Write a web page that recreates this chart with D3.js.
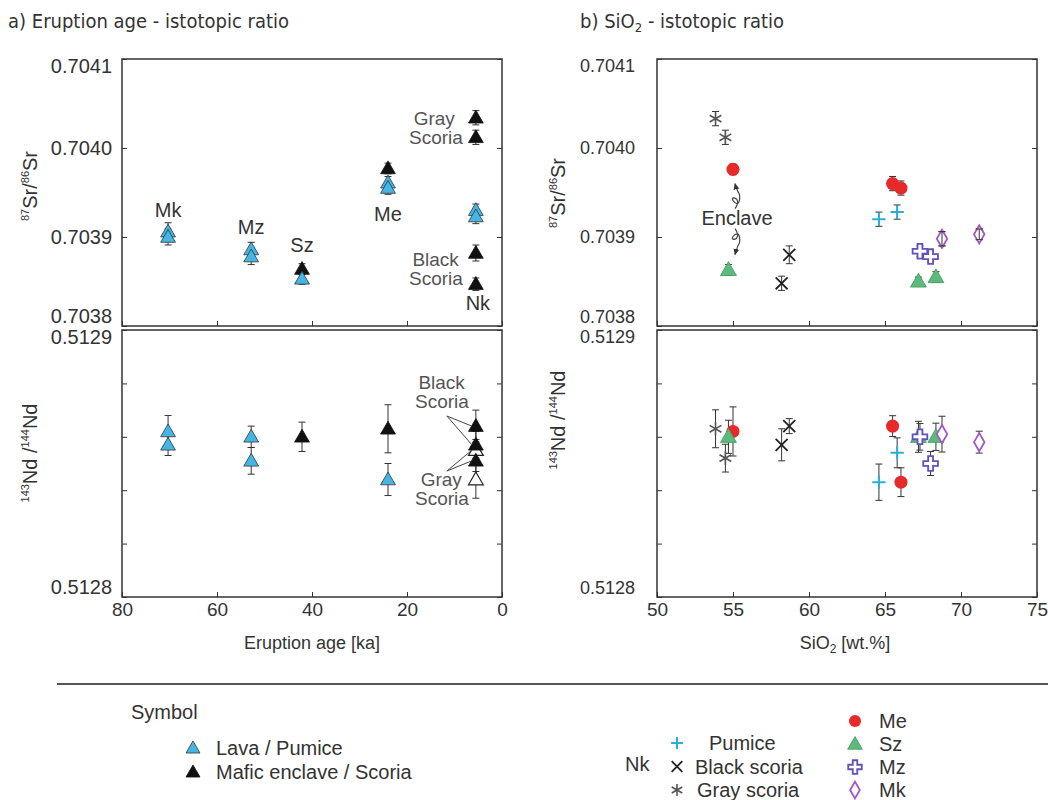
<!DOCTYPE html>
<html>
<head>
<meta charset="utf-8">
<script src="https://cdn.jsdelivr.net/npm/d3@7.9.0/dist/d3.min.js"></script>
<style>
  body { margin: 0; background: #fff; }
  svg text { font-family: "Liberation Sans", Arial, sans-serif; fill: #333; }
  .title { font-family: "Liberation Sans Narrow", "DejaVu Sans Condensed", sans-serif; font-size: 20px; }
</style>
</head>
<body>
<svg id="chart" width="1048" height="800"></svg>
<script>
// ---- a) eruption age vs isotopic ratio : [age (ka), value, error] ----
const lavaSr = [[70.3, 0.703906, 0.000010], [70.3, 0.703900, 0.000009], [52.8, 0.703886, 0.000008], [52.8, 0.703878, 0.000009],
  [42.1, 0.703853, 0.000006], [24.0, 0.703961, 0.000007], [24.0, 0.703955, 0.000007], [5.5, 0.703930, 0.000007], [5.5, 0.703923, 0.000008]];
const maficSr = [[42.1, 0.703864, 0.000006], [24.0, 0.703977, 0.000006], [5.5, 0.704034, 0.000008], [5.5, 0.704012, 0.000008],
  [5.5, 0.703882, 0.000009], [5.5, 0.703847, 0.000007]];
const lavaNd = [[70.3, 0.512862, 0.000006], [70.3, 0.512857, 0.000004], [52.8, 0.512860, 0.000004], [52.8, 0.512851, 0.000005], [24.0, 0.512844, 0.000006]];
const maficNd = [[42.1, 0.512860, 0.0000055], [24.0, 0.512863, 0.000009], [5.5, 0.512864, 0.000006], [5.5, 0.512857, 0.000005], [5.5, 0.512851, 0.000004]];
const openNd = [[5.5, 0.512855, 0.000004], [5.5, 0.512844, 0.000007]];
const unitNames = ["Mk", "Mz", "Sz", "Me"];
const unitAges = [70.3, 52.8, 42.1, 24.0];

// ---- b) SiO2 vs isotopic ratio : [SiO2, Sr, Sr err, Nd, Nd err] ----
const pumiceRows = [[64.6, 0.703920, 0.000008, 0.512843, 0.0000068], [65.8, 0.703928, 0.000008, 0.512854, 0.0000056]];
const blackScoriaRows = [[58.2, 0.703848, 0.000008, 0.512857, 0.0000060], [58.7, 0.703880, 0.000010, 0.512864, 0.0000028]];
const grayScoriaRows = [[53.85, 0.704033, 0.000008, 0.512863, 0.0000071], [54.5, 0.704012, 0.000008, 0.512852, 0.0000052]];
const meRows = [[55.0, 0.703976, 0.000006, 0.512862, 0.0000092], [65.5, 0.703960, 0.000008, 0.512864, 0.0000039], [66.05, 0.703955, 0.000008, 0.512843, 0.0000054]];
const szRows = [[54.7, 0.703863, 0.000006, 0.512860, 0.0000062], [67.2, 0.703850, 0.000005, 0.512860, 0.0000058], [68.35, 0.703855, 0.000006, 0.512860, 0.0000051]];
const mzRows = [[67.3, 0.703884, 0.000006, 0.512860, 0.0000050], [68.0, 0.703878, 0.000006, 0.512850, 0.0000045]];
const mkRows = [[68.75, 0.703898, 0.000008, 0.512861, 0.0000067], [71.2, 0.703903, 0.000006, 0.512858, 0.0000041]];

// ticks
const ageTicks = [80, 60, 40, 20, 0];
const siTicks = [50, 55, 60, 65, 70, 75];
const srTicks = [0.7038, 0.7039, 0.7040, 0.7041];
const ndTicks = [0.5128, 0.51282, 0.51284, 0.51286, 0.51288, 0.5129];
const ndLabels = [0.5128, 0.5129];

const svg = d3.select("#chart");
const defs = svg.append("defs");
defs.append("marker").attr("id", "arr").attr("viewBox", "0 0 10 10").attr("refX", 8).attr("refY", 5)
  .attr("markerWidth", 6).attr("markerHeight", 6).attr("orient", "auto")
  .append("path").attr("d", "M0,1L9,5L0,9Z").attr("fill", "#333");

const xAge = d3.scaleLinear().domain([80, 0]).range([122, 502]);
const xSi = d3.scaleLinear().domain([50, 75]).range([657, 1037]);
const ySr = d3.scaleLinear().domain([0.7038, 0.7041]).range([326, 59]);
const yNd = d3.scaleLinear().domain([0.5128, 0.5129]).range([597, 330]);

// frame + inward ticks for one panel
function drawFrame(x, y, xVals, yVals, yLabels, showX, pad, fs) {
  const [xl, xr] = x.range(), [yb, yt] = y.range();
  const g = svg.append("g").attr("color", "#333");
  const fmt = v => yLabels.includes(v) ? d3.format(".4f")(v) : "";
  const left = g.append("g").attr("transform", `translate(${xl},0)`)
    .call(d3.axisLeft(y).tickValues(yVals).tickSizeInner(-5).tickSizeOuter(0).tickPadding(pad).tickFormat(fmt));
  left.attr("font-size", fs).attr("font-family", null);
  // nudge the end labels inside the panel height
  left.selectAll(".tick text").attr("dy", v => v === y.domain()[1] ? "0.68em" : v === y.domain()[0] ? "-0.2em" : "0.32em");
  g.append("g").attr("transform", `translate(${xr},0)`)
    .call(d3.axisRight(y).tickValues(yVals).tickSizeInner(-5).tickSizeOuter(0).tickFormat(""));
  const bottom = g.append("g").attr("transform", `translate(0,${yb})`)
    .call(d3.axisBottom(x).tickValues(xVals).tickSizeInner(-5).tickSizeOuter(0).tickPadding(6)
      .tickFormat(showX ? d3.format("d") : ""));
  bottom.attr("font-size", 19).attr("font-family", null);
  g.selectAll(".domain").remove();
  g.append("rect").attr("x", xl).attr("y", yt).attr("width", xr - xl).attr("height", yb - yt)
    .attr("fill", "none").attr("stroke", "#333").attr("stroke-width", 1.5);
}

drawFrame(xAge, ySr, ageTicks, srTicks, srTicks, false, 10, 20);
drawFrame(xAge, yNd, ageTicks, ndTicks, ndLabels, true, 10, 20);
drawFrame(xSi, ySr, siTicks, srTicks, srTicks, false, 22, 18);
drawFrame(xSi, yNd, siTicks, ndTicks, ndLabels, true, 22, 18);

function errorBars(pts, x, y, xi, vi, ei) {
  svg.append("g").selectAll("path").data(pts).join("path")
    .attr("d", d => {
      const cx = x(d[xi]), y1 = y(d[vi] - d[ei]), y2 = y(d[vi] + d[ei]);
      return `M${cx - 3.5},${y2}H${cx + 3.5}M${cx},${y2}V${y1}M${cx - 3.5},${y1}H${cx + 3.5}`;
    })
    .attr("fill", "none").attr("stroke", "#333").attr("stroke-width", 1);
}

function marks(pts, x, y, xi, vi, st) {
  svg.append("g").selectAll("path").data(pts).join("path")
    .attr("transform", d => `translate(${x(d[xi])},${y(d[vi]) + (st.dy || 0)})`)
    .attr("d", d3.symbol(st.type, st.size))
    .attr("fill", st.fill).attr("stroke", st.stroke).attr("stroke-width", st.sw);
}

// two-line gray note, one text element
function note(xEnd, yTop, lines, gap) {
  const t = svg.append("text").attr("y", yTop).attr("dy", "0.35em").attr("text-anchor", "end")
    .attr("font-size", 19).style("fill", "#555");
  lines.forEach(([s, dx], i) => t.append("tspan").attr("x", xEnd + dx).attr("dy", i ? gap : null).text(s));
}

const lavaStyle = { type: d3.symbolTriangle, size: 95, fill: "#43b6e6", stroke: "#333", sw: 0.8, dy: 1 };
const maficStyle = { type: d3.symbolTriangle, size: 95, fill: "#111", stroke: "#111", sw: 0.8, dy: 1 };
const openStyle = { type: d3.symbolTriangle, size: 95, fill: "#fff", stroke: "#222", sw: 1.2, dy: 1 };

// ---- panel a, Sr ----
errorBars(lavaSr, xAge, ySr, 0, 1, 2);
errorBars(maficSr, xAge, ySr, 0, 1, 2);
marks(maficSr, xAge, ySr, 0, 1, maficStyle);
marks(lavaSr, xAge, ySr, 0, 1, lavaStyle);

// unit labels
const unitDy = [-22, -22, -24, 26];
svg.append("g").selectAll("text").data(unitNames).join("text")
  .attr("x", (d, i) => xAge(unitAges[i]))
  .attr("y", (d, i) => {
    const vals = lavaSr.concat(maficSr).filter(p => p[0] === unitAges[i]).map(p => p[1]);
    return unitDy[i] < 0 ? ySr(d3.max(vals)) + unitDy[i] : ySr(d3.min(vals)) + unitDy[i];
  })
  .attr("dy", "0.35em").attr("text-anchor", "middle").attr("font-size", 20).text(d => d);

const nkX = xAge(5.5);
note(nkX, ySr(maficSr[2][1]) + 1, [["Gray", -21], ["Scoria", -13]], 19);
note(nkX, ySr(maficSr[4][1]) + 6, [["Black", -17], ["Scoria", -13]], 19);
svg.append("text").attr("x", nkX + 2).attr("y", ySr(maficSr[5][1]) + 19).attr("dy", "0.35em")
  .attr("text-anchor", "middle").attr("font-size", 20).text("Nk");

// ---- panel a, Nd ----
errorBars(lavaNd, xAge, yNd, 0, 1, 2);
errorBars(maficNd, xAge, yNd, 0, 1, 2);
errorBars(openNd, xAge, yNd, 0, 1, 2);
marks(openNd, xAge, yNd, 0, 1, openStyle);
marks(maficNd, xAge, yNd, 0, 1, maficStyle);
marks(lavaNd, xAge, yNd, 0, 1, lavaStyle);

note(nkX, 382, [["Black", -11], ["Scoria", -7]], 19);
note(nkX, 479, [["Gray", -14], ["Scoria", -7]], 19);
const leaders = [[416, maficNd[2][1]], [416, maficNd[3][1]], [471, openNd[0][1]], [471, maficNd[4][1]]];
svg.append("g").selectAll("line").data(leaders).join("line")
  .attr("x1", nkX - 29).attr("y1", d => d[0]).attr("x2", nkX - 4).attr("y2", d => yNd(d[1]))
  .attr("stroke", "#444").attr("stroke-width", 1);

// ---- panel b ----
const siStyles = [
  [grayScoriaRows, { type: d3.symbolAsterisk, size: 130, fill: "none", stroke: "#555", sw: 1.6 }],
  [blackScoriaRows, { type: d3.symbolTimes, size: 95, fill: "none", stroke: "#222", sw: 1.8 }],
  [pumiceRows, { type: d3.symbolPlus, size: 60, fill: "none", stroke: "#2aaed8", sw: 2 }],
  [meRows, { type: d3.symbolCircle, size: 135, fill: "#e62a2a", stroke: "none", sw: 0 }],
  [szRows, { type: d3.symbolTriangle, size: 110, fill: "#5dba7d", stroke: "#3f9a60", sw: 0.8, dy: 1 }],
  [mzRows, { type: d3.symbolCross, size: 120, fill: "#fff", stroke: "#6250bb", sw: 1.8 }],
  [mkRows, { type: d3.symbolDiamond, size: 95, fill: "#fff", stroke: "#a456c6", sw: 1.8 }]
];
siStyles.forEach(([rows]) => errorBars(rows, xSi, ySr, 0, 1, 2));
siStyles.forEach(([rows, st]) => marks(rows, xSi, ySr, 0, 1, st));
siStyles.forEach(([rows]) => errorBars(rows, xSi, yNd, 0, 3, 4));
siStyles.forEach(([rows, st]) => marks(rows, xSi, yNd, 0, 3, st));
// diamond error bars show through the open symbol
errorBars(mkRows, xSi, ySr, 0, 1, 2);

// "Enclave" note with curly arrows
const enX = xSi(meRows[0][0]);
const enY = (ySr(meRows[0][1]) + ySr(szRows[0][1])) / 2 - 2;
svg.append("text").attr("x", enX + 4).attr("y", enY).attr("dy", "0.35em").attr("text-anchor", "middle")
  .attr("font-size", 20).text("Enclave");
function curly(x0, y0, dir, len) {
  const p = d3.path();
  const pt = (s, f) => [x0 + s, y0 + dir * f];
  p.moveTo(...pt(0, 0));
  p.bezierCurveTo(...pt(9, 13), ...pt(-9, 13), ...pt(0, 6));
  p.bezierCurveTo(...pt(5, 2), ...pt(6, 13), ...pt(3, 17));
  p.quadraticCurveTo(...pt(1, len - 4), ...pt(0, len));
  return p.toString();
}
svg.append("path").attr("d", curly(enX + 2, enY - 9, -1, 25)).attr("fill", "none").attr("stroke", "#444")
  .attr("stroke-width", 1.2).attr("marker-end", "url(#arr)");
svg.append("path").attr("d", curly(enX + 2, enY + 11, 1, 26)).attr("fill", "none").attr("stroke", "#444")
  .attr("stroke-width", 1.2).attr("marker-end", "url(#arr)");

// ---- titles and axis titles ----
svg.append("text").attr("class", "title").attr("x", 8).attr("y", 28).text("a) Eruption age - istotopic ratio");
const tb = svg.append("text").attr("class", "title").attr("x", 580).attr("y", 28);
tb.append("tspan").text("b) SiO");
tb.append("tspan").text("2").attr("font-size", 13).attr("dy", 4);
tb.append("tspan").text(" - istotopic ratio").attr("dy", -4);

svg.append("text").attr("x", xAge(40)).attr("y", 649).attr("text-anchor", "middle").attr("font-size", 18).text("Eruption age [ka]");
const sx = svg.append("text").attr("x", 845).attr("y", 649).attr("text-anchor", "middle").attr("font-size", 18);
sx.append("tspan").text("SiO");
sx.append("tspan").text("2").attr("font-size", 12).attr("dy", 4);
sx.append("tspan").text(" [wt.%]").attr("dy", -4);

function yTitle(x, y, parts) {
  const t = svg.append("text").attr("transform", `translate(${x},${y}) rotate(-90)`).attr("text-anchor", "middle");
  let up = false;
  parts.forEach(([s, sup]) => {
    const ts = t.append("tspan").text(s).attr("font-size", sup ? 11 : 20);
    if (sup && !up) { ts.attr("dy", -8); up = true; }
    else if (!sup && up) { ts.attr("dy", 8); up = false; }
  });
}
const srParts = [["87", 1], ["Sr/", 0], ["86", 1], ["Sr", 0]];
const ndParts = [["143", 1], ["Nd /", 0], ["144", 1], ["Nd", 0]];
yTitle(37, 186, srParts);
yTitle(37, 453, ndParts);
yTitle(565, 193, srParts);
yTitle(565, 420, ndParts);

// ---- legend ----
svg.append("line").attr("x1", 57).attr("x2", 1048).attr("y1", 684).attr("y2", 684).attr("stroke", "#555").attr("stroke-width", 2);
svg.append("text").attr("x", 131).attr("y", 712).attr("dy", "0.35em").attr("font-size", 20).text("Symbol");
const symLegend = [["Lava / Pumice", lavaStyle], ["Mafic enclave / Scoria", maficStyle]];
symLegend.forEach(([label, st], i) => {
  const yy = 748 + i * 24;
  svg.append("path").attr("transform", `translate(193,${yy + 1})`).attr("d", d3.symbol(st.type, 85))
    .attr("fill", st.fill).attr("stroke", st.stroke).attr("stroke-width", st.sw);
  svg.append("text").attr("x", 216).attr("y", yy).attr("dy", "0.35em").attr("font-size", 20).text(label);
});

svg.append("text").attr("x", 625).attr("y", 764).attr("dy", "0.35em").attr("font-size", 20).text("Nk");
const nkLegend = [["Pumice", 709, siStyles[2][1]], ["Black scoria", 695, siStyles[1][1]], ["Gray scoria", 697, siStyles[0][1]]];
nkLegend.forEach(([label, tx, st], i) => {
  const yy = 743 + i * 23.5;
  svg.append("path").attr("transform", `translate(677,${yy})`).attr("d", d3.symbol(st.type, st.size * 0.8))
    .attr("fill", st.fill).attr("stroke", st.stroke).attr("stroke-width", st.sw);
  svg.append("text").attr("x", tx).attr("y", yy).attr("dy", "0.35em").attr("font-size", 20).text(label);
});
const unitLegend = [["Me", siStyles[3][1]], ["Sz", siStyles[4][1]], ["Mz", siStyles[5][1]], ["Mk", siStyles[6][1]]];
unitLegend.forEach(([label, st], i) => {
  const yy = 721 + i * 23;
  svg.append("path").attr("transform", `translate(855,${yy + (st.dy || 0)})`).attr("d", d3.symbol(st.type, st.size * 0.85))
    .attr("fill", st.fill).attr("stroke", st.stroke).attr("stroke-width", st.sw);
  svg.append("text").attr("x", 879).attr("y", yy).attr("dy", "0.35em").attr("font-size", 20).text(label);
});
</script>
</body>
</html>
